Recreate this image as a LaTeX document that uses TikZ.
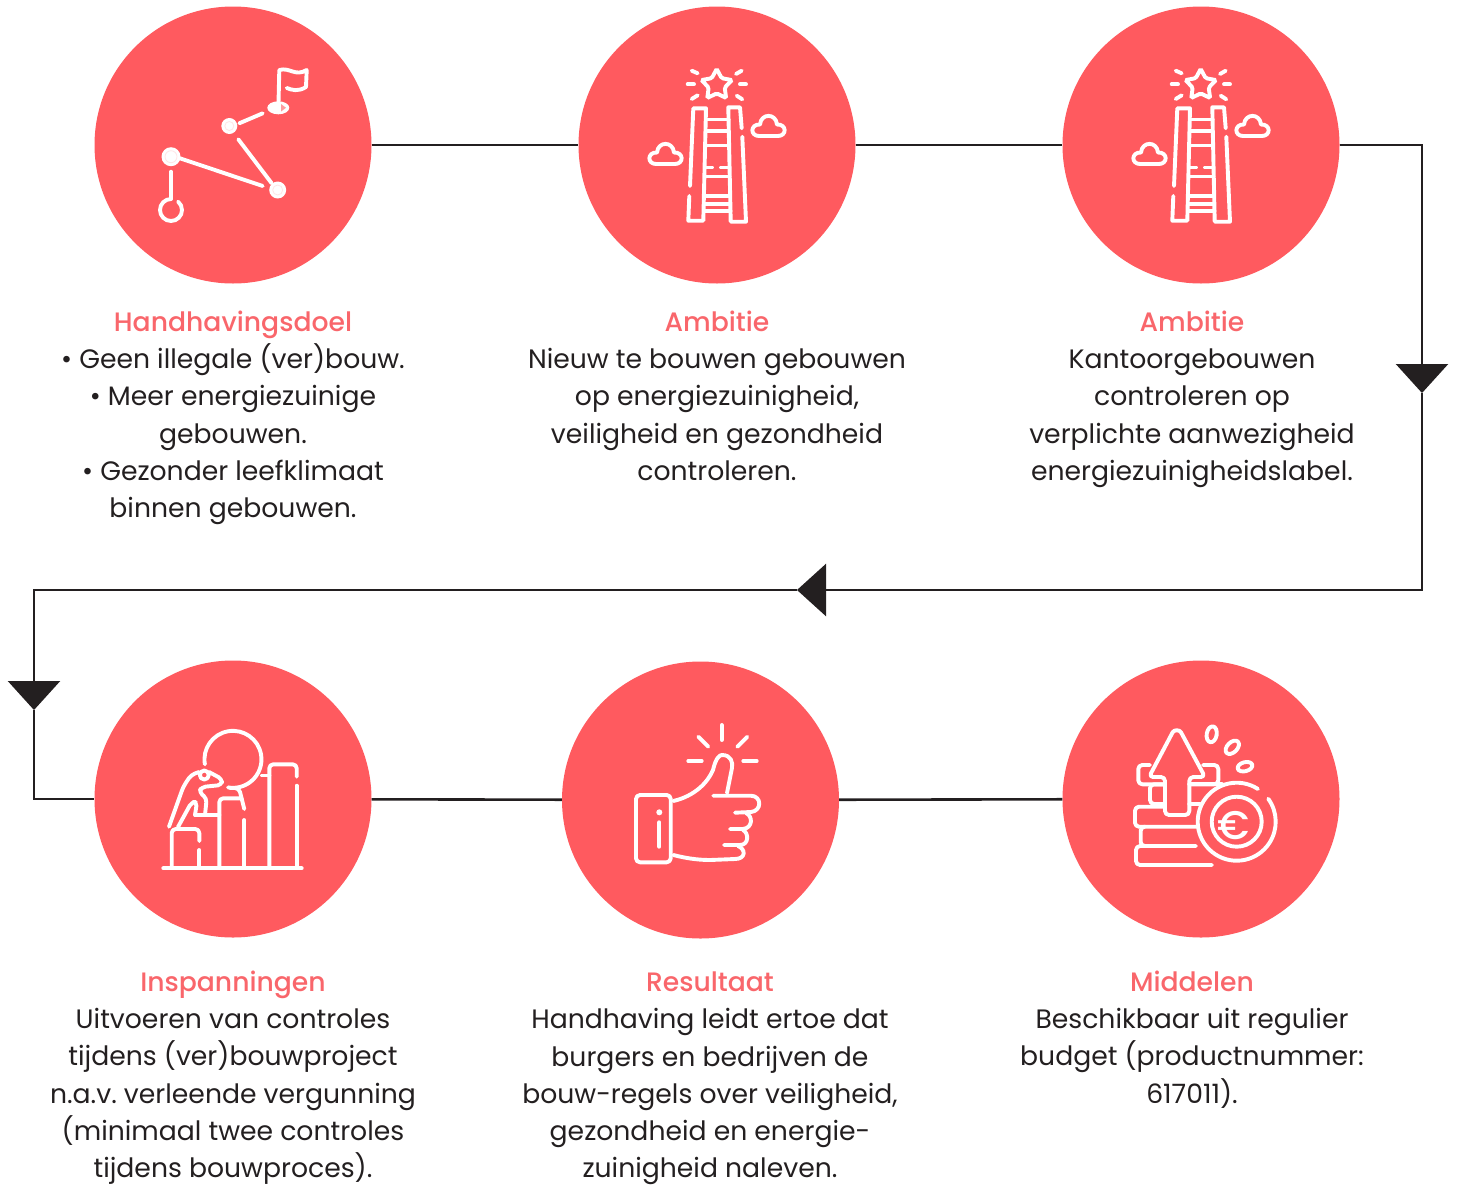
\documentclass[tikz,border=0pt]{standalone}
\usepackage{fontspec}
\setmainfont{Poppins}
\newfontfamily\zwaar{Poppins Medium}
\usepackage{xcolor}
\usetikzlibrary{shapes.geometric, arrows.meta}
\definecolor{koraal}{HTML}{FF5A5F}
\definecolor{kop}{HTML}{F9666B}
\definecolor{inkt}{HTML}{231F20}
\newcommand{\kop}[1]{{\zwaar\color{kop}#1}}
\begin{document}
\frenchspacing
\begin{tikzpicture}[x=1pt, y=-1pt,
            bol/.style={circle, fill=koraal, minimum size=277pt, inner sep=0pt},
            tekst/.style={anchor=north, align=center, inner sep=0pt, text=inkt, font=\fontsize{26.65}{37.3}\selectfont},
            lijn/.style={draw=inkt, line width=2.6pt},
            pijl/.style={lijn, -{Triangle[length=29pt, width=52pt, color=inkt]}},
            icoon/.style={draw=white, line width=3.9pt, line cap=round, line join=round},
            rond/.style={icoon, rounded corners=4pt}]
    \useasboundingbox (0,0) rectangle (1457,1184);

    \node[bol] (doel) at (233,145) {};
    \node[bol] (ambitie) at (717,145) {};
    \node[bol] (kantoor) at (1201,145) {};
    \node[bol] (inspanning) at (233,799) {};
    \node[bol] (resultaat) at (700.5,800) {};
    \node[bol] (middelen) at (1201,799) {};

    \coordinate (hoekb) at (1422,393);
    \coordinate (hoekm) at (797,590);
    \coordinate (hoeko) at (34,710);

    \draw[lijn] (doel) -- (ambitie);
    \draw[lijn] (ambitie) -- (kantoor);
    \draw[pijl] (kantoor.east) -| (hoekb);
    \draw[pijl] (hoekb) |- (hoekm);
    \draw[pijl] (hoekm) -| (hoeko);
    \draw[lijn] (hoeko) |- (inspanning.west);
    \draw[lijn] (inspanning) -- (resultaat);
    \draw[lijn] (resultaat) -- (middelen);

    \node[tekst] (tekstdoel) at (233,310.5) {\kop{Handhavingsdoel}\\• Geen illegale (ver)bouw.\\• Meer energiezuinige\\gebouwen.\\• Gezonder leefklimaat\\binnen gebouwen.};
    \node[tekst] (tekstambitie) at (717,310.5) {\kop{Ambitie}\\Nieuw te bouwen gebouwen\\op energiezuinigheid,\\veiligheid en gezondheid\\controleren.};
    \node[tekst] (tekstkantoor) at (1192,310.5) {\kop{Ambitie}\\Kantoorgebouwen\\controleren op\\verplichte aanwezigheid\\energiezuinigheidslabel.};
    \node[tekst] (tekstinspanning) at (233,970.5) {\kop{Inspanningen}\\Uitvoeren van controles\\tijdens (ver)bouwproject\\n.a.v. verleende vergunning\\(minimaal twee controles\\tijdens bouwproces).};
    \node[tekst] (tekstresultaat) at (710,971.5) {\kop{Resultaat}\\Handhaving leidt ertoe dat\\burgers en bedrijven de\\bouw-regels over veiligheid,\\gezondheid en energie-\\zuinigheid naleven.};
    \node[tekst] (tekstmiddelen) at (1192,970.5) {\kop{Middelen}\\Beschikbaar uit regulier\\budget (productnummer:\\617011).};

    % route met vlag
    \draw[icoon] (180,158.3) -- (262.7,186);
    \draw[icoon] (238.3,139.3) -- (271.7,183.3);
    \draw[icoon] (239.3,123.3) -- (262.7,113.3);
    \draw[icoon] (171,171.7) -- (171,199);
    \draw[icoon] (171,199) arc[start angle=90, end angle=410, radius=11pt];
    \foreach \px/\py/\pr in {171/156.7/9.5, 229.3/126/8, 277.7/190/8.5} {
        \fill[white] (\px,\py) circle (\pr pt);
        \draw[white!85!koraal, line width=0.8pt] (\px,\py) circle (\pr pt - 3.5pt);
    }
    \fill[white] (278.3,107.8) ellipse [x radius=11pt, y radius=6.5pt];
    \fill[koraal!60!white] (281,104) -- (286,107.8) -- (281,111.5) -- cycle;
    \draw[icoon] (278.5,103) -- (279.3,70) .. controls (290,67) and (295,77) .. (306.7,70) -- (306,87) .. controls (298,92) and (292,90) .. (286.7,88);

    % ladder met ster
    \foreach \dx in {0,484} {
        \begin{scope}[xshift=\dx pt]
            \node[star, star points=5, star point ratio=1.9, draw=white, line width=3.9pt, rounded corners=1.5pt, minimum size=32pt, inner sep=0pt] (ster\dx) at (716.7,85) {};
            \foreach \ax/\ay/\bx/\by in {691.7/70.7/697.7/73.3, 687.7/84.3/694/84.3, 691.7/99/697.7/95.3, 741.7/70.7/736/74, 740/84.3/746/84.3, 736.7/95.7/742.3/99.3} {
                \draw[icoon] (\ax,\ay) -- (\bx,\by);
            }
            \draw[icoon] (690,186) -- (693.3,108.3) -- (706,108.3) -- (703.3,220.7) -- (688.3,220.7) -- (689.3,196);
            \draw[icoon] (741.7,128.3) -- (740,107.3) -- (728.3,107.3) -- (730.7,221.7) -- (746,221.7) -- (742.3,136.7);
            \foreach \ry/\rl/\rr in {119.5/706/728.5, 131/706/728.5, 145.5/705.5/729, 176.5/705/729.5, 196/704.5/730, 204/704/730, 211/704/730.5} {
                \draw[icoon] (\rl,\ry) -- (\rr,\ry);
            }
            \draw[icoon] (705,167.5) -- (712,167.5);
            \draw[icoon] (721,167.5) -- (729,167.5);
            \foreach \wx/\wy in {0/0, -103/28} {
                \draw[icoon, shift={(\wx pt,-\wy pt)}] (759,136) -- (778,136) .. controls (787,136) and (787,124) .. (777,124.5) .. controls (776,113) and (761,113) .. (760,124.5) .. controls (750,124) and (750,136) .. (759,136) -- cycle;
            }
        \end{scope}
    }

    % bol omhoog duwen
    \draw[icoon] (163.3,868.3) -- (301.7,868.3);
    \draw[icoon] (204.9,764.3) arc[start angle=190, end angle=-100, radius=28.5pt];
    \draw[icoon] (262,775.5) -- (269.3,775.5);
    \draw[rond] (269.3,866) -- (269.3,764.3) -- (296.7,764.3) -- (296.7,776.7);
    \draw[icoon] (296.7,785.7) -- (296.7,866);
    \draw[rond] (219.3,866) -- (219.3,798.3) -- (241.7,798.3);
    \draw[rond] (230,788) -- (239,788) -- (244.3,809);
    \draw[icoon] (244.3,820) -- (244.3,866);
    \draw[icoon] (195,815) -- (219.3,815);
    \draw[rond] (171.7,866) -- (171.7,829) -- (199.3,829) -- (199.3,841);
    \draw[icoon] (199.3,850) -- (199.3,866);
    \draw[icoon] (204.3,775) circle (4.5pt);
    \draw[rond] (169,826.7) -- (183.3,786.7) -- (191,775) -- (199,772);
    \draw[rond] (178,827) -- (191.7,802) -- (197,802) -- (195,815);
    \draw[rond] (209,772) -- (222,779) -- (221.7,785) -- (201.7,787) -- (199,792) -- (206.7,798.3) -- (205,815);

    % duim omhoog
    \draw[rond] (636,795) rectangle (670.7,862.3);
    \fill[white] (659.3,812.3) circle (3pt);
    \draw[icoon] (659.3,822.3) -- (659.3,846.7);
    \draw[icoon] (673.3,801) .. controls (695,796) and (708,782) .. (713,770) .. controls (716,757) and (720,755) .. (722,755) .. controls (731,755) and (733,762) .. (732,768) -- (727,793);
    \draw[icoon] (713.3,795.7) -- (751,795.7) .. controls (762,796) and (762,811) .. (751,812) -- (735,812.7);
    \draw[icoon] (746,813) .. controls (753,816) and (753,828) .. (743,829) -- (730,829);
    \draw[icoon] (743,830) .. controls (749,833) and (749,845) .. (740,845) -- (724,845);
    \draw[icoon] (738,846) .. controls (746,849) and (746,859) .. (735,859) -- (710,860) .. controls (697,860) and (685,858) .. (673.3,855);
    \foreach \ax/\ay/\bx/\by in {721.7/725/721.7/740, 698.3/736.7/708.3/746.7, 747.3/736.7/737.3/746.7, 688.3/761/701.7/761, 743.3/761/756.7/761} {
        \draw[icoon] (\ax,\ay) -- (\bx,\by);
    }

    % munten met pijl
    \draw[rond] (1165,777) -- (1149,777) -- (1170.7,736) .. controls (1174,729.5) and (1179.5,729.5) .. (1183,736) -- (1205,777) -- (1189.3,777) -- (1189.3,815) -- (1165,815) -- cycle;
    \draw[rond] (1150,765) -- (1138.3,765) -- (1138.3,784.3) -- (1165,784.3);
    \draw[rond] (1203,765) -- (1218.3,765) -- (1218.3,784.3) -- (1189.3,784.3);
    \draw[rond] (1165,784.3) -- (1150,784.3) -- (1150,804) -- (1165,804);
    \draw[icoon] (1189.3,784.3) -- (1222,784.3);
    \draw[icoon] (1189.3,804) -- (1200,804);
    \draw[rond] (1165,806.7) -- (1135,806.7) -- (1135,826.7) -- (1198,826.7);
    \draw[rond] (1145,826.7) -- (1140.7,826.7) -- (1140.7,846) -- (1196,846);
    \draw[rond] (1145,846) -- (1136,846) -- (1136,865) -- (1212,865);
    \draw[icoon] (1236.7,821.7) ++(57:39pt) arc[start angle=57, end angle=396, radius=39pt];
    \draw[icoon] (1236.7,821.7) circle (25pt);
    \node[text=white, inner sep=0pt, font=\zwaar\fontsize{40}{40}\selectfont] (euro) at (1233.5,826) {€};
    \draw[icoon] (1211.7,734.3) ellipse [x radius=5pt, y radius=8pt, rotate=-10];
    \draw[icoon] (1232.3,747.3) ellipse [x radius=8pt, y radius=5pt, rotate=45];
    \draw[icoon] (1245,766.7) ellipse [x radius=7.5pt, y radius=4.5pt, rotate=15];
\end{tikzpicture}
\end{document}
